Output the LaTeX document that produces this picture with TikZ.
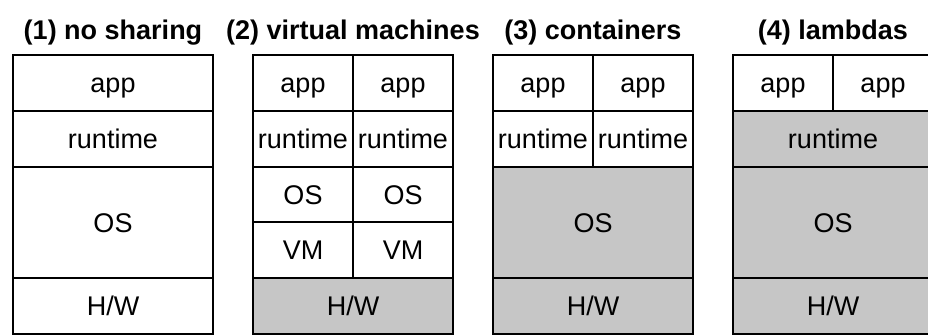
\documentclass[tikz,border=0pt]{standalone}
\usepackage{fontspec}
\setmainfont{Liberation Sans}
\usetikzlibrary{positioning}
\definecolor{sharedgray}{HTML}{C6C6C6}

\begin{document}
\begin{tikzpicture}[
    x=1pt, y=-1pt,
    cell/.style={rectangle, draw=black, line width=2pt, fill=white, inner sep=0pt, outer sep=0pt, minimum height=55.8pt, text height=19.4pt, text depth=0pt, font=\fontsize{27}{30}\selectfont},
    full/.style={cell, minimum width=200pt},
    half/.style={cell, minimum width=100pt},
    tall/.style={minimum height=111.6pt},
    common/.style={fill=sharedgray},
    title/.style={font=\fontsize{27}{32}\selectfont\bfseries, inner sep=0pt}
]
    \useasboundingbox[fill=white] (0,0) rectangle (928,336);

    % (1) no sharing
    \node[full, anchor=north] (app1) at (113,55) {app};
    \node[full, below=0pt of app1] (rt1) {runtime};
    \node[full, tall, below=0pt of rt1] (os1) {OS};
    \node[full, below=0pt of os1] (hw1) {H/W};
    \node[title, above=10pt of app1] (t1) {(1) no sharing};

    % (2) virtual machines
    \node[half, anchor=north west] (app2a) at (253,55) {app};
    \node[half, right=0pt of app2a] (app2b) {app};
    \node[half, below=0pt of app2a] (rt2a) {runtime};
    \node[half, below=0pt of app2b] (rt2b) {runtime};
    \node[half, below=0pt of rt2a] (os2a) {OS};
    \node[half, below=0pt of rt2b] (os2b) {OS};
    \node[half, below=0pt of os2a] (vm2a) {VM};
    \node[half, below=0pt of os2b] (vm2b) {VM};
    \node[full, common, anchor=north west] (hw2) at (vm2a.south west) {H/W};
    \node[title, above=10pt of app2a.north east] (t2) {(2) virtual machines};

    % (3) containers
    \node[half, anchor=north west] (app3a) at (493,55) {app};
    \node[half, right=0pt of app3a] (app3b) {app};
    \node[half, below=0pt of app3a] (rt3a) {runtime};
    \node[half, below=0pt of app3b] (rt3b) {runtime};
    \node[full, tall, common, anchor=north west] (os3) at (rt3a.south west) {OS};
    \node[full, common, below=0pt of os3] (hw3) {H/W};
    \node[title, above=10pt of app3a.north east] (t3) {(3) containers};

    % (4) lambdas
    \node[half, anchor=north west] (app4a) at (733,55) {app};
    \node[half, right=0pt of app4a] (app4b) {app};
    \node[full, common, anchor=north west] (rt4) at (app4a.south west) {runtime};
    \node[full, tall, common, below=0pt of rt4] (os4) {OS};
    \node[full, common, below=0pt of os4] (hw4) {H/W};
    \node[title, above=10pt of app4a.north east] (t4) {(4) lambdas};
\end{tikzpicture}
\end{document}
